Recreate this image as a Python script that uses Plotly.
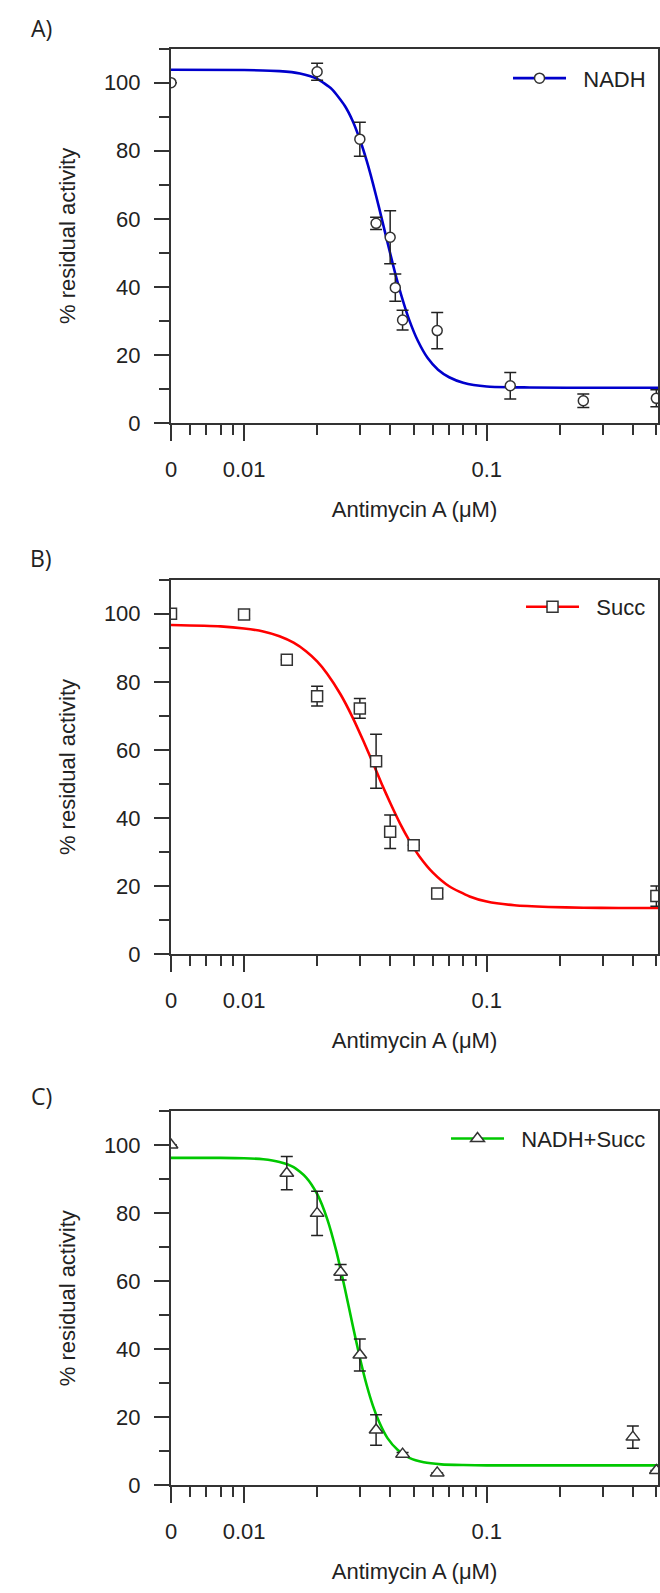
import numpy as np
import plotly.graph_objects as go

FONT = "Liberation Sans, Arial, sans-serif"
LABEL_FONT = "Open Sans, Lato, sans-serif"
ZERO_POS = 0.005  # position of the "0" concentration on the broken log axis

# ---------------- Panel A: NADH ----------------
conc_a = [0, 0.02, 0.03, 0.035, 0.04, 0.042, 0.045, 0.0625, 0.125, 0.25, 0.5]
act_a = [100, 103.2, 83.4, 58.7, 54.6, 39.8, 30.3, 27.2, 11.0, 6.6, 7.3]
err_a = [0, 2.5, 5.0, 1.8, 7.8, 4.0, 2.9, 5.3, 3.9, 2.0, 2.5]
fit_x_a = [0.005, 0.01, 0.014, 0.017, 0.02, 0.023, 0.026, 0.028, 0.03, 0.032, 0.034,
           0.036, 0.038, 0.04, 0.042, 0.045, 0.048, 0.052, 0.057, 0.063, 0.07, 0.08,
           0.1, 0.15, 0.3, 0.52]
fit_y_a = [103.8, 103.7, 103.4, 102.7, 101.1, 98.1, 93.2, 88.8, 83.3, 77.1, 70.3,
           63.3, 56.4, 49.9, 43.9, 36.3, 30.2, 24.2, 19.2, 15.7, 13.5, 11.9,
           10.8, 10.5, 10.4, 10.4]

# ---------------- Panel B: Succ ----------------
conc_b = [0, 0.01, 0.015, 0.02, 0.03, 0.035, 0.04, 0.05, 0.0625, 0.5]
act_b = [100, 99.8, 86.5, 75.8, 72.2, 56.7, 36.0, 32.0, 17.9, 17.1]
err_b = [0, 1.2, 0, 2.9, 2.9, 7.9, 4.9, 0, 1.2, 3.0]
fit_x_b = [0.005, 0.008, 0.01, 0.012, 0.014, 0.016, 0.018, 0.02, 0.022, 0.025, 0.028,
           0.031, 0.034, 0.037, 0.04, 0.044, 0.048, 0.053, 0.06, 0.07, 0.085, 0.1,
           0.13, 0.18, 0.25, 0.35, 0.52]
fit_y_b = [96.7, 96.3, 95.7, 94.8, 93.4, 91.5, 89.0, 86.0, 82.4, 76.3, 69.6,
           62.7, 56.1, 49.9, 44.5, 38.3, 33.4, 28.6, 24.0, 20.0, 17.0, 15.5,
           14.4, 13.9, 13.7, 13.6, 13.6]

# ---------------- Panel C: NADH+Succ ----------------
conc_c = [0, 0.015, 0.02, 0.025, 0.03, 0.035, 0.045, 0.0625, 0.4, 0.5]
act_c = [100, 91.7, 79.9, 62.6, 38.3, 16.3, 9.2, 3.7, 14.2, 4.4]
err_c = [0, 4.9, 6.5, 2.3, 4.7, 4.5, 0.5, 0, 3.3, 0]
fit_x_c = [0.005, 0.008, 0.01, 0.012, 0.014, 0.016, 0.018, 0.02, 0.022, 0.024, 0.026,
           0.028, 0.03, 0.032, 0.034, 0.036, 0.039, 0.043, 0.048, 0.055, 0.065, 0.08,
           0.1, 0.15, 0.25, 0.52]
fit_y_c = [96.2, 96.2, 96.1, 95.8, 95.0, 93.5, 90.5, 85.6, 78.3, 68.8, 58.0,
           47.2, 37.5, 29.5, 23.3, 18.7, 13.9, 10.4, 8.1, 6.8, 6.2, 6.0,
           5.9, 5.9, 5.9, 5.9]

panel_letters = ["A)", "B)", "C)"]
series_names = ["NADH", "Succ", "NADH+Succ"]
line_colors = ["#0000CC", "#FF0000", "#00C800"]
symbols = ["circle", "square", "triangle-up"]
symbol_sizes = [10, 11, 12]

x_major_vals = [ZERO_POS, 0.01, 0.1]
x_major_text = ["0", "0.01", "0.1"]
x_minor_vals = [0.006, 0.007, 0.008, 0.009, 0.02, 0.03, 0.04, 0.05, 0.06, 0.07,
                0.08, 0.09, 0.2, 0.3, 0.4, 0.5]

W, H = 660, 1593
# plot-area pixel extents (top, bottom) for each panel
panel_px = [(49.0, 426.7), (584.5, 962.2), (1120.0, 1497.7)]
legend_px_y = [79, 612, 1148]
letter_px_y = [28, 563, 1105]

datasets = [
    (conc_a, act_a, err_a, fit_x_a, fit_y_a),
    (conc_b, act_b, err_b, fit_x_b, fit_y_b),
    (conc_c, act_c, err_c, fit_x_c, fit_y_c),
]

fig = go.Figure()
L, R = 171, 1
plot_w = W - L - R

for i, (conc, act, err, fx, fy) in enumerate(datasets):
    xa = "x" if i == 0 else f"x{i+1}"
    ya = "y" if i == 0 else f"y{i+1}"
    leg = "legend" if i == 0 else f"legend{i+1}"
    xplot = [c if c > 0 else ZERO_POS for c in conc]
    # fitted curve
    fig.add_trace(go.Scatter(
        x=fx, y=fy, mode="lines", xaxis=xa, yaxis=ya,
        line=dict(color=line_colors[i], width=2.6, shape="spline", smoothing=0.6),
        showlegend=False, hoverinfo="skip"))
    # data points with error bars
    fig.add_trace(go.Scatter(
        x=xplot, y=act, mode="markers", xaxis=xa, yaxis=ya,
        marker=dict(symbol=symbols[i], size=symbol_sizes[i], color="white",
                    line=dict(color="#333333", width=1.5)),
        error_y=dict(type="data", array=err, visible=True, color="#222222",
                     thickness=1.5, width=6),
        showlegend=False, name=series_names[i]))
    # legend entry (line + marker)
    fig.add_trace(go.Scatter(
        x=[None], y=[None], mode="lines+markers", xaxis=xa, yaxis=ya,
        name="\u00a0\u00a0" + series_names[i], legend=leg,
        line=dict(color=line_colors[i], width=2.6),
        marker=dict(symbol=symbols[i], size=symbol_sizes[i], color="white",
                    line=dict(color="#333333", width=1.5))))

layout = dict(
    width=W, height=H,
    margin=dict(l=L, r=R, t=0, b=0),
    paper_bgcolor="white", plot_bgcolor="white",
    font=dict(family=FONT, size=22, color="#222222"),
    annotations=[],
)

for i in range(3):
    top, bot = panel_px[i]
    dom = [1 - bot / H, 1 - top / H]
    xk = "xaxis" if i == 0 else f"xaxis{i+1}"
    yk = "yaxis" if i == 0 else f"yaxis{i+1}"
    ya = "y" if i == 0 else f"y{i+1}"
    xa = "x" if i == 0 else f"x{i+1}"
    layout[xk] = dict(
        type="log", range=[np.log10(ZERO_POS), -0.2943], domain=[0, 1], anchor=ya,
        showline=True, linecolor="#333333", linewidth=2, mirror=True,
        ticks="outside", ticklen=16, tickwidth=1.6, tickcolor="#333333",
        tickmode="array", tickvals=x_major_vals, ticktext=x_major_text,
        tickfont=dict(family=FONT, size=22, color="#222222"),
        ticklabelstandoff=9,
        minor=dict(tickmode="array", tickvals=x_minor_vals, ticks="outside",
                   ticklen=10, tickwidth=1.6, tickcolor="#333333", showgrid=False),
        showgrid=False, zeroline=False,
        title=dict(text="Antimycin A (μM)", standoff=21,
                   font=dict(family=FONT, size=22, color="#222222")),
    )
    layout[yk] = dict(
        range=[0, 110], domain=dom, anchor=xa,
        showline=True, linecolor="#333333", linewidth=2, mirror=True,
        ticks="outside", ticklen=15, tickwidth=1.6, tickcolor="#333333",
        tick0=0, dtick=20,
        tickfont=dict(family=FONT, size=22, color="#222222"),
        ticklabelstandoff=9,
        minor=dict(dtick=10, ticks="outside", ticklen=10, tickwidth=1.6,
                   tickcolor="#333333", showgrid=False),
        showgrid=False, zeroline=False,
        title=dict(text="% residual activity", standoff=22,
                   font=dict(family=FONT, size=22, color="#222222")),
    )
    lk = "legend" if i == 0 else f"legend{i+1}"
    layout[lk] = dict(
        x=(652 - L) / plot_w, xanchor="right",
        y=1 - legend_px_y[i] / H, yanchor="middle",
        bgcolor="rgba(0,0,0,0)", borderwidth=0,
        font=dict(family=FONT, size=22, color="#222222"),
        itemwidth=53,
    )
    layout["annotations"].append(dict(
        text=panel_letters[i], xref="paper", yref="paper",
        x=(41 - L) / plot_w, y=1 - letter_px_y[i] / H,
        xanchor="center", yanchor="middle", showarrow=False,
        font=dict(family=LABEL_FONT, size=23, color="#222222")))

fig.update_layout(**layout)
fig.write_html("out.html")
